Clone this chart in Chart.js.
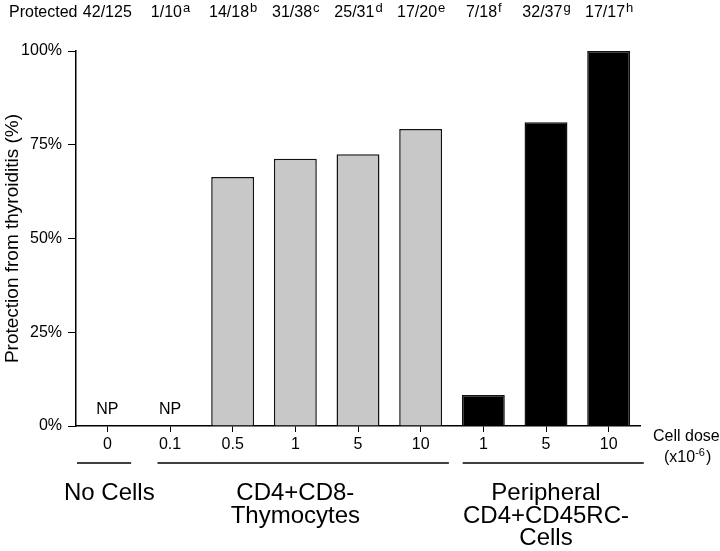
<!DOCTYPE html>
<html>
<head>
<meta charset="utf-8">
<script src="https://cdn.jsdelivr.net/npm/chart.js@4"></script>
<style>
  body { margin: 0; background: #fff; }
  canvas { display: block; }
</style>
</head>
<body>
<canvas id="chart" width="720" height="551"></canvas>
<script>
// dose categories (x10^-6 cells)
const doses = ['0', '0.1', '0.5', '1', '5', '10', '1', '5', '10'];
// % protected from thyroiditis
const protection = [0, 0, 66.4, 71.3, 72.5, 79.2, 8.3, 81, 100];
const barGroup = ['none', 'thy', 'thy', 'thy', 'thy', 'thy', 'per', 'per', 'per'];
const protectedCounts = ['42/125', '1/10', '14/18', '31/38', '25/31', '17/20', '7/18', '32/37', '17/17'];
const footnotes = ['', 'a', 'b', 'c', 'd', 'e', 'f', 'g', 'h'];
const npLabels = ['NP', 'NP', '', '', '', '', '', '', ''];
const yTicks = [0, 25, 50, 75, 100];
const groups = [
    { lines: ['No Cells'], from: 0, to: 0, center: 0 },
    { lines: ['CD4+CD8-', 'Thymocytes'], from: 1, to: 5, center: 3 },
    { lines: ['Peripheral', 'CD4+CD45RC-', 'Cells'], from: 6, to: 8, center: 7 }
];

const FONT = '"Liberation Sans", Arial, Helvetica, sans-serif';

const fillFor = g => g === 'per' ? '#000000' : '#c8c8c8';

const annotations = {
    id: 'annotations',
    afterDraw(chart) {
        const ctx = chart.ctx;
        const x = chart.scales.x;
        const y = chart.scales.y;
        const area = chart.chartArea;
        const step = x.getPixelForValue(1) - x.getPixelForValue(0);
        ctx.save();
        ctx.fillStyle = '#000';
        ctx.textBaseline = 'middle';

        // "Protected" row
        ctx.font = '16px ' + FONT;
        ctx.textAlign = 'left';
        ctx.fillText('Protected', 9, 13);
        protectedCounts.forEach((txt, i) => {
            const cx = x.getPixelForValue(i);
            ctx.font = '16px ' + FONT;
            const w = ctx.measureText(txt).width;
            ctx.font = '13px ' + FONT;
            const sw = footnotes[i] ? ctx.measureText(footnotes[i]).width : 0;
            const left = cx - (w + sw) / 2;
            ctx.font = '16px ' + FONT;
            ctx.fillText(txt, left, 13);
            if (footnotes[i]) {
                ctx.font = '13px ' + FONT;
                ctx.fillText(footnotes[i], left + w + 1, 8);
            }
        });

        // NP labels
        ctx.font = '16px ' + FONT;
        ctx.textAlign = 'center';
        npLabels.forEach((t, i) => {
            if (t) ctx.fillText(t, x.getPixelForValue(i), y.getPixelForValue(0) - 16);
        });

        // y axis title
        ctx.save();
        ctx.translate(13, (area.top + area.bottom) / 2);
        ctx.rotate(-Math.PI / 2);
        ctx.font = '19px ' + FONT;
        ctx.textAlign = 'center';
        ctx.fillText('Protection from thyroiditis (%)', 0, 0);
        ctx.restore();

        // Cell dose label
        ctx.font = '16px ' + FONT;
        ctx.textAlign = 'left';
        ctx.fillText('Cell dose', 653, 437);
        ctx.fillText('(x10', 664, 458);
        const w1 = ctx.measureText('(x10').width;
        ctx.font = '11px ' + FONT;
        ctx.fillText('-6', 664 + w1, 453);
        const w2 = ctx.measureText('-6').width;
        ctx.font = '16px ' + FONT;
        ctx.fillText(')', 664 + w1 + w2 + 1, 458);

        // group brackets and labels
        const ext = [[0, 0.38], [0.2, 0.45], [0.33, 0.56]];
        groups.forEach((g, k) => {
            const x0 = g.from === 0 ? area.left + 1 : x.getPixelForValue(g.from) - step * ext[k][0];
            const x1 = x.getPixelForValue(g.to) + step * ext[k][1];
            ctx.strokeStyle = '#000';
            ctx.lineWidth = 1.5;
            ctx.beginPath();
            ctx.moveTo(x0, 463);
            ctx.lineTo(x1, 463);
            ctx.stroke();
            ctx.font = '24px ' + FONT;
            ctx.textAlign = 'center';
            ctx.textBaseline = 'alphabetic';
            const cx = x.getPixelForValue(g.center) + (k === 0 ? 2 : 0);
            g.lines.forEach((line, j) => ctx.fillText(line, cx, 500 + j * 22.5));
        });
        ctx.restore();
    }
};

new Chart(document.getElementById('chart'), {
    type: 'bar',
    data: {
        labels: doses,
        datasets: [{
            data: protection,
            backgroundColor: barGroup.map(fillFor),
            borderColor: '#111',
            borderWidth: 1.5,
            borderSkipped: 'bottom',
            barPercentage: 0.685,
            categoryPercentage: 1
        }]
    },
    options: {
        responsive: false,
        animation: false,
        layout: { padding: { left: 0, right: 80, top: 51, bottom: 0 } },
        plugins: { legend: { display: false }, tooltip: { enabled: false } },
        scales: {
            x: {
                grid: { offset: false, drawOnChartArea: false, tickLength: 6, color: '#000', lineWidth: 1 },
                border: { color: '#000', width: 1.5 },
                ticks: { color: '#000', font: { family: FONT, size: 16 }, padding: 3, maxRotation: 0 },
                afterFit: s => { s.height = 551 - 426; }
            },
            y: {
                min: 0,
                max: 100,
                afterBuildTicks: s => { s.ticks = yTicks.map(v => ({ value: v })); },
                grid: { drawOnChartArea: false, tickLength: 8, color: '#000', lineWidth: 1 },
                border: { color: '#000', width: 1.5 },
                ticks: {
                    color: '#000',
                    font: { family: FONT, size: 16 },
                    padding: 6,
                    callback: v => v + '%'
                },
                afterFit: s => { s.width = 76; }
            }
        }
    },
    plugins: [annotations]
});
</script>
</body>
</html>
